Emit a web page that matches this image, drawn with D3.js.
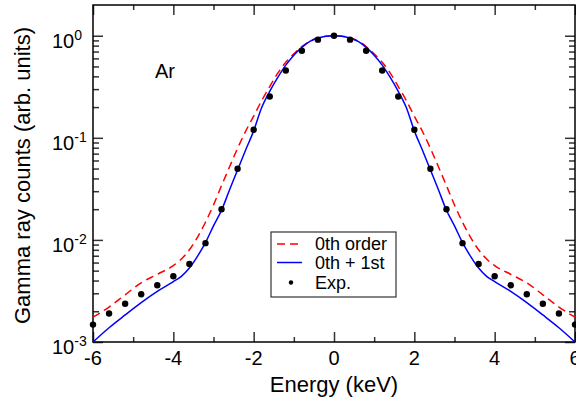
<!DOCTYPE html>
<html>
<head>
<meta charset="utf-8">
<script src="https://cdn.jsdelivr.net/npm/d3@7/dist/d3.min.js"></script>
<style>
  body { margin: 0; background: #fff; }
  svg { display: block; font-family: "Liberation Sans", Arial, sans-serif; }
</style>
</head>
<body>
<div id="chart"></div>
<script>
// energy grid for the two calculated curves (keV)
const curveEnergy = [-6, -5.6, -5.2, -4.8, -4.4, -4.0, -3.8, -3.6, -3.4, -3.2, -3.0, -2.8, -2.6, -2.4, -2.2, -2.0,
  -1.8, -1.6, -1.4, -1.2, -1.0, -0.8, -0.6, -0.4, -0.2, 0,
  0.2, 0.4, 0.6, 0.8, 1.0, 1.2, 1.4, 1.6, 1.8, 2.0, 2.2, 2.4, 2.6, 2.8, 3.0, 3.2, 3.4, 3.6, 3.8, 4.0, 4.4, 4.8, 5.2, 5.6, 6];

// 0th order (red dashed)
const zerothOrder = [1.75e-3, 2.2e-3, 2.9e-3, 3.8e-3, 4.6e-3, 5.6e-3, 6.5e-3, 8.0e-3, 0.0106, 0.0149, 0.022, 0.034, 0.052, 0.079, 0.116, 0.163,
  0.232, 0.318, 0.43, 0.55, 0.665, 0.785, 0.885, 0.955, 0.99, 1.0,
  0.99, 0.955, 0.885, 0.785, 0.665, 0.55, 0.43, 0.318, 0.232, 0.163, 0.116, 0.079, 0.052, 0.034, 0.022, 0.0149, 0.0106, 8.0e-3, 6.5e-3, 5.6e-3, 4.6e-3, 3.8e-3, 2.9e-3, 2.2e-3, 1.75e-3];

// 0th + 1st (blue solid)
const zerothFirst = [1.0e-3, 1.38e-3, 1.84e-3, 2.43e-3, 3.13e-3, 3.9e-3, 4.4e-3, 5.3e-3, 6.9e-3, 9.4e-3, 0.0137, 0.0195, 0.031, 0.0485, 0.076, 0.117,
  0.198, 0.285, 0.39, 0.515, 0.645, 0.77, 0.88, 0.95, 0.99, 1.0,
  0.99, 0.95, 0.88, 0.77, 0.645, 0.515, 0.39, 0.285, 0.198, 0.117, 0.076, 0.0485, 0.031, 0.0195, 0.0137, 9.4e-3, 6.9e-3, 5.3e-3, 4.4e-3, 3.9e-3, 3.13e-3, 2.43e-3, 1.84e-3, 1.38e-3, 1.0e-3];

// experimental points
const expEnergy = [-6, -5.6, -5.2, -4.8, -4.4, -4.0, -3.6, -3.2, -2.8, -2.4, -2.0, -1.6, -1.2, -0.8, -0.4, 0,
  0.4, 0.8, 1.2, 1.6, 2.0, 2.4, 2.8, 3.2, 3.6, 4.0, 4.4, 4.8, 5.2, 5.6, 6];
const expCounts = [1.48e-3, 1.9e-3, 2.37e-3, 2.94e-3, 3.6e-3, 4.4e-3, 5.8e-3, 9.3e-3, 0.02, 0.0497, 0.12, 0.254, 0.457, 0.712, 0.915, 1.0,
  0.915, 0.712, 0.457, 0.254, 0.12, 0.0497, 0.02, 9.3e-3, 5.8e-3, 4.4e-3, 3.6e-3, 2.94e-3, 2.37e-3, 1.9e-3, 1.48e-3];

const xMajor = [-6, -4, -2, 0, 2, 4, 6];
const xMinor = [-5, -3, -1, 1, 3, 5];
const yMajor = [1e-3, 1e-2, 1e-1, 1e0];
const yExp = ["-3", "-2", "-1", "0"];

const width = 576, height = 407;
const plotLeft = 93, plotRight = 575, plotTop = 5, plotBottom = 342;

const svg = d3.select("#chart").append("svg")
  .attr("width", width)
  .attr("height", height);

const x = d3.scaleLinear().domain([-6, 6]).range([plotLeft, plotRight]);
const y = d3.scaleLog().domain([1e-3, 2]).range([plotBottom, plotTop]);

const yMinor = [];
[1e-3, 1e-2, 1e-1].forEach(d => { for (let k = 2; k <= 9; k++) yMinor.push(d * k); });

// inward ticks on all four sides
const tickColor = "#333";
const addAxis = (axis, tx, ty) => {
  const g = svg.append("g").attr("transform", `translate(${tx},${ty})`).call(axis);
  g.select(".domain").remove();
  g.selectAll("line").attr("stroke", tickColor).attr("stroke-width", 1.5);
  g.selectAll("text").remove();
};
addAxis(d3.axisBottom(x).tickValues(xMajor).tickSize(-10), 0, plotBottom);
addAxis(d3.axisBottom(x).tickValues(xMinor).tickSize(-5), 0, plotBottom);
addAxis(d3.axisTop(x).tickValues(xMajor).tickSize(-10), 0, plotTop);
addAxis(d3.axisTop(x).tickValues(xMinor).tickSize(-5), 0, plotTop);
addAxis(d3.axisLeft(y).tickValues(yMajor).tickSize(-10), plotLeft, 0);
addAxis(d3.axisLeft(y).tickValues(yMinor).tickSize(-6), plotLeft, 0);
addAxis(d3.axisRight(y).tickValues(yMajor).tickSize(-10), plotRight, 0);
addAxis(d3.axisRight(y).tickValues(yMinor).tickSize(-6), plotRight, 0);

// frame
svg.append("rect")
  .attr("x", plotLeft).attr("y", plotTop)
  .attr("width", plotRight - plotLeft).attr("height", plotBottom - plotTop)
  .attr("fill", "none").attr("stroke", "#000").attr("stroke-width", 1.5);

// x tick labels (the last one is cut by the page edge, as in the original)
svg.selectAll(".xlab")
  .data(xMajor)
  .enter().append("text")
  .attr("x", d => x(d))
  .attr("y", plotBottom + 23)
  .attr("text-anchor", "middle")
  .style("font-size", "20px")
  .text(d => d);

// y tick labels with superscript
const ylab = svg.selectAll(".ylab")
  .data(yMajor)
  .enter().append("text")
  .attr("x", 52)
  .attr("y", d => y(d) + 12)
  .style("font-size", "20px");
ylab.append("tspan").text("10");
ylab.append("tspan")
  .attr("dy", -8)
  .style("font-size", "14px")
  .text((d, i) => yExp[i]);

// axis titles
svg.append("text")
  .attr("x", (plotLeft + plotRight) / 2)
  .attr("y", 392)
  .attr("text-anchor", "middle")
  .style("font-size", "22px")
  .text("Energy (keV)");

svg.append("text")
  .attr("transform", `translate(30, ${(plotTop + plotBottom) / 2 + 2}) rotate(-90)`)
  .attr("text-anchor", "middle")
  .style("font-size", "22px")
  .text("Gamma ray counts (arb. units)");

svg.append("text")
  .attr("x", 155)
  .attr("y", 78)
  .style("font-size", "20px")
  .text("Ar");

// curves
const line = values => d3.line()
  .x((d, i) => x(curveEnergy[i]))
  .y(d => y(d))
  .curve(d3.curveMonotoneX)(values);

svg.append("path")
  .attr("d", line(zerothOrder))
  .attr("fill", "none")
  .attr("stroke", "#ff0000")
  .attr("stroke-width", 1.5)
  .attr("stroke-dasharray", "8,5");

svg.append("path")
  .attr("d", line(zerothFirst))
  .attr("fill", "none")
  .attr("stroke", "#0000ff")
  .attr("stroke-width", 1.5);

svg.selectAll(".exp")
  .data(expCounts)
  .enter().append("circle")
  .attr("cx", (d, i) => x(expEnergy[i]))
  .attr("cy", d => y(d))
  .attr("r", 3.2)
  .attr("fill", "#000");

// legend
const legend = svg.append("g");
legend.append("rect")
  .attr("x", 271).attr("y", 232)
  .attr("width", 125).attr("height", 65)
  .attr("fill", "#fff").attr("stroke", "#333").attr("stroke-width", 1.2);

const legendItems = ["0th order", "0th + 1st", "Exp."];
const legendY = [244, 262.5, 282.5];
legend.append("line")
  .attr("x1", 277).attr("x2", 302).attr("y1", legendY[0]).attr("y2", legendY[0])
  .attr("stroke", "#ff0000").attr("stroke-width", 1.5).attr("stroke-dasharray", "8,5");
legend.append("line")
  .attr("x1", 277).attr("x2", 302).attr("y1", legendY[1]).attr("y2", legendY[1])
  .attr("stroke", "#0000ff").attr("stroke-width", 1.5);
legend.append("circle")
  .attr("cx", 291).attr("cy", legendY[2]).attr("r", 2.2).attr("fill", "#000");

legend.selectAll(".ltext")
  .data(legendItems)
  .enter().append("text")
  .attr("x", 315)
  .attr("y", (d, i) => legendY[i] + 6)
  .style("font-size", "18px")
  .text(d => d);
</script>
</body>
</html>
